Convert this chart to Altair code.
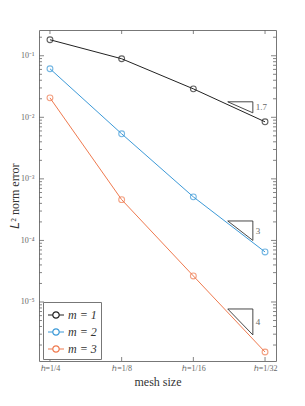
import altair as alt
import pandas as pd

# ---- data ----
h_labels = ["ℎ=1/4", "ℎ=1/8", "ℎ=1/16", "ℎ=1/32"]
h_index = [0, 1, 2, 3]
series_names = ["m = 1", "m = 2", "m = 3"]
err_m1 = [0.182, 0.0894, 0.029, 0.00845]
err_m2 = [0.0615, 0.0054, 0.00051, 0.000065]
err_m3 = [0.0207, 0.00046, 0.0000265, 0.00000154]
colors = ["#222222", "#3d9ad8", "#ef7a4f"]

# slope triangles: x start/end (mesh index), top value, slope, label
tri_x0 = [2.48, 2.48, 2.48]
tri_x1 = [2.83, 2.83, 2.83]
tri_top = [0.01786, 0.000207, 0.0000077]
tri_slope = [1.7, 3, 4]
tri_label = ["1.7", "3", "4"]

major_y = [1e-1, 1e-2, 1e-3, 1e-4, 1e-5]
minor_y = [m * 10.0 ** k for k in range(-6, 0) for m in range(2, 10)]

W, H = 237, 331
YDOM = [1.1e-6, 0.262]
XDOM = [-0.153, 3.153]
FONT = "Liberation Serif"
GRAY = "#666666"

rows = []
for name, vals in zip(series_names, [err_m1, err_m2, err_m3]):
    for i, v in zip(h_index, vals):
        rows.append({"m": name, "x": i, "err": v})
df = pd.DataFrame(rows)

xs = alt.Scale(domain=XDOM, nice=False, zero=False)
ys = alt.Scale(type="log", domain=YDOM, nice=False)
cs = alt.Scale(domain=series_names, range=colors)

legend_sym = ("M-1,0H-0.4M0.4,0H1M0.4,0A0.4,0.4 0 1,1 -0.4,0"
              "A0.4,0.4 0 1,1 0.4,0")

x_axis = alt.Axis(
    values=h_index, labelExpr="['ℎ=1/4','ℎ=1/8','ℎ=1/16','ℎ=1/32'][datum.value]",
    ticks=False, domain=False, grid=False, labelFont=FONT, labelFontSize=8,
    labelColor=GRAY, labelPadding=3, title="mesh size", titleFont=FONT,
    titleFontSize=12, titleFontWeight="normal", titleColor="#333333",
    titleY=20, titleBaseline="middle",
)
y_axis = alt.Axis(
    values=major_y,
    labelExpr="'10⁻' + ['0','¹','²','³','⁴','⁵','⁶'][round(-log(datum.value)/LN10)]",
    ticks=False, domain=False, grid=False, labelFont=FONT, labelFontSize=8,
    labelColor=GRAY, labelPadding=5, title="𝐿² norm error", titleFont=FONT,
    titleFontSize=12, titleFontWeight="normal", titleColor="#333333",
    titleX=-25, titleY=H / 2, titleAngle=270, titleBaseline="middle",
    titleAlign="center",
)

base = alt.Chart(df)
lines = base.mark_line(strokeWidth=1).encode(
    x=alt.X("x:Q", scale=xs, axis=x_axis),
    y=alt.Y("err:Q", scale=ys, axis=y_axis),
    color=alt.Color("m:N", scale=cs, legend=alt.Legend(
        title=None, orient="none", legendX=4, legendY=272,
        symbolType=legend_sym, symbolSize=256, symbolStrokeWidth=1.2,
        symbolFillColor="transparent", labelFont=FONT, labelFontSize=12,
        labelFontStyle="italic",
        labelColor="#333333", strokeColor="#777777", fillColor="white",
        padding=4, rowPadding=2, labelOffset=3,
    )),
)
points = base.mark_point(size=34, filled=False, strokeWidth=1.1).encode(
    x=alt.X("x:Q", scale=xs),
    y=alt.Y("err:Q", scale=ys),
    color=alt.Color("m:N", scale=cs, legend=None),
)

# triangles
trows = []
lrows = []
LOG2 = 0.30103
for k in range(3):
    bottom = tri_top[k] * 10 ** (-tri_slope[k] * LOG2 * (tri_x1[k] - tri_x0[k]))
    pts = [(tri_x0[k], tri_top[k]), (tri_x1[k], tri_top[k]),
           (tri_x1[k], bottom), (tri_x0[k], tri_top[k])]
    for j, (px, py) in enumerate(pts):
        trows.append({"t": k, "o": j, "x": px, "y": py})
    lrows.append({"x": tri_x1[k], "y": (tri_top[k] * bottom) ** 0.5,
                  "label": tri_label[k]})
tdf = pd.DataFrame(trows)
ldf = pd.DataFrame(lrows)

tris = alt.Chart(tdf).mark_line(color="#333333", strokeWidth=0.9).encode(
    x=alt.X("x:Q", scale=xs), y=alt.Y("y:Q", scale=ys),
    detail="t:N", order="o:Q",
)
tlabels = alt.Chart(ldf).mark_text(
    align="left", baseline="middle", dx=3, font=FONT, fontSize=9, color=GRAY
).encode(x=alt.X("x:Q", scale=xs), y=alt.Y("y:Q", scale=ys), text="label:N")

# inward ticks
ymaj = pd.DataFrame({"v": major_y})
ymin = pd.DataFrame({"v": [v for v in minor_y if YDOM[0] <= v <= YDOM[1]]})
xt = pd.DataFrame({"v": h_index})

def yticks(d, length):
    l = alt.Chart(d).mark_rule(color=GRAY, strokeWidth=0.8).encode(
        y=alt.Y("v:Q", scale=ys), x=alt.value(0), x2=alt.value(length))
    r = alt.Chart(d).mark_rule(color=GRAY, strokeWidth=0.8).encode(
        y=alt.Y("v:Q", scale=ys), x=alt.value(W - length), x2=alt.value(W))
    return l + r

xtb = alt.Chart(xt).mark_rule(color=GRAY, strokeWidth=0.8).encode(
    x=alt.X("v:Q", scale=xs), y=alt.value(H - 4), y2=alt.value(H))
xtt = alt.Chart(xt).mark_rule(color=GRAY, strokeWidth=0.8).encode(
    x=alt.X("v:Q", scale=xs), y=alt.value(0), y2=alt.value(4))

chart = alt.layer(
    yticks(ymaj, 5), yticks(ymin, 3), xtb, xtt, tris, tlabels, lines, points
).properties(
    width=W, height=H,
    autosize=alt.AutoSizeParams(type="none"),
    padding={"left": 31, "top": 22, "right": 21, "bottom": 37},
).configure_view(stroke="#777777", strokeWidth=1)

chart.save("out.html", embed_options={"renderer": "svg", "actions": False})
